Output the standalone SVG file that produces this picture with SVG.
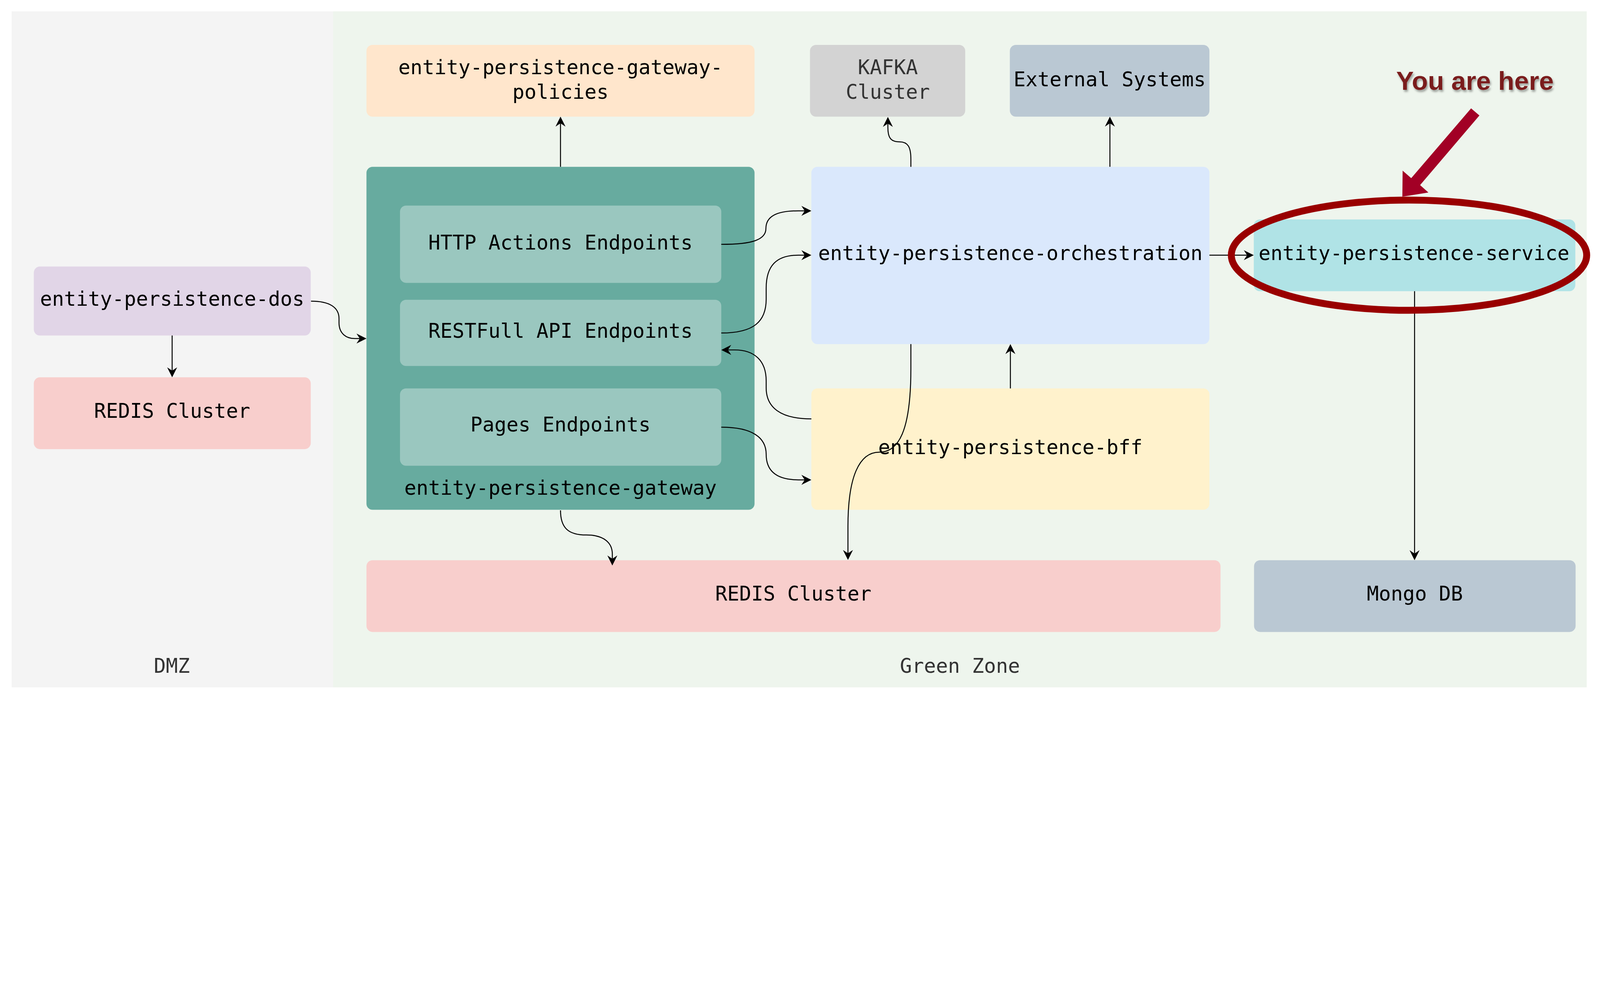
<svg xmlns="http://www.w3.org/2000/svg" width="5772" height="2520" viewBox="0 0 5772 2520" style="max-width:100%;height:auto">
<defs>
<style>
.t{font-family:"DejaVu Sans Mono","Liberation Mono",monospace;font-size:72px;fill:#000;text-anchor:middle}
.g{fill:#333}
.c{fill:none;stroke:#000;stroke-width:3.5;marker-end:url(#ah)}
</style>
<marker id="ah" markerUnits="userSpaceOnUse" viewBox="-14 -20 40 40" markerWidth="40" markerHeight="40" refX="0" refY="0" orient="auto" overflow="visible">
<path d="M24,0 L-12,-18 L0,0 L-12,18 Z" fill="#000"/>
</marker>
<filter id="sh" x="-10%" y="-30%" width="130%" height="170%">
<feDropShadow dx="4" dy="7" stdDeviation="4" flood-color="#000" flood-opacity="0.35"/>
</filter>
</defs>
<rect width="5772" height="2520" fill="#ffffff"/>
<g id="zone-dmz">
<rect x="42" y="41" width="1160" height="2440" fill="#f4f4f4"/>
<text class="t g" x="620" y="2428">DMZ</text>
</g>
<g id="zone-green">
<rect x="1202" y="41" width="4522" height="2440" fill="#eef5ed"/>
<text class="t g" x="3463" y="2428">Green Zone</text>
</g>
<g id="policies">
<rect x="1322" y="162" width="1400" height="259" rx="22" fill="#ffe6cc"/>
<text class="t" x="2022" y="268">entity-persistence-gateway-</text>
<text class="t" x="2022" y="356">policies</text>
</g>
<g id="kafka">
<rect x="2922" y="162" width="560" height="259" rx="22" fill="#d3d3d3"/>
<text class="t g" x="3203" y="268">KAFKA</text>
<text class="t g" x="3203" y="356">Cluster</text>
</g>
<g id="external">
<rect x="3643" y="162" width="720" height="259" rx="22" fill="#bac8d3"/>
<text class="t" x="4003" y="312">External Systems</text>
</g>
<g id="gateway">
<rect x="1322" y="602" width="1400" height="1238" rx="22" fill="#67ab9f"/>
<text class="t" x="2022" y="1786">entity-persistence-gateway</text>
</g>
<g id="http-actions">
<rect x="1443" y="742" width="1159" height="279" rx="22" fill="#9ac7bf"/>
<text class="t" x="2022" y="900">HTTP Actions Endpoints</text>
</g>
<g id="restfull">
<rect x="1443" y="1082" width="1159" height="239" rx="22" fill="#9ac7bf"/>
<text class="t" x="2022" y="1219">RESTFull API Endpoints</text>
</g>
<g id="pages">
<rect x="1443" y="1402" width="1159" height="279" rx="22" fill="#9ac7bf"/>
<text class="t" x="2022" y="1558">Pages Endpoints</text>
</g>
<g id="dos">
<rect x="122" y="962" width="999" height="249" rx="22" fill="#e1d5e7"/>
<text class="t" x="621" y="1104">entity-persistence-dos</text>
</g>
<g id="redis-dmz">
<rect x="122" y="1362" width="999" height="259" rx="22" fill="#f8cecc"/>
<text class="t" x="621" y="1508">REDIS Cluster</text>
</g>
<g id="orchestration">
<rect x="2927" y="602" width="1436" height="640" rx="22" fill="#dae8fc"/>
<text class="t" x="3645" y="939">entity-persistence-orchestration</text>
</g>
<g id="bff">
<rect x="2927" y="1402" width="1436" height="438" rx="22" fill="#fff2cc"/>
<text class="t" x="3645" y="1639">entity-persistence-bff</text>
</g>
<g id="service">
<rect x="4523" y="792" width="1160" height="259" rx="22" fill="#b0e3e6"/>
<text class="t" x="5101" y="939" textLength="1121" lengthAdjust="spacingAndGlyphs">entity-persistence-service</text>
</g>
<g id="redis-green">
<rect x="1322" y="2022" width="3081" height="259" rx="22" fill="#f8cecc"/>
<text class="t" x="2862" y="2167">REDIS Cluster</text>
</g>
<g id="mongo">
<rect x="4524" y="2022" width="1160" height="259" rx="22" fill="#bac8d3"/>
<text class="t" x="5104" y="2167">Mongo DB</text>
</g>
<g id="connectors">
<path class="c" d="M2022,602 L2022,445"/>
<path class="c" d="M2602,882 C2715,882 2763,865 2763,825 C2763,782 2800,761 2880,761 L2903,761"/>
<path class="c" d="M2602,1202 C2720,1202 2764,1160 2764,1080 L2764,1040 C2764,960 2800,921 2880,921 L2903,921"/>
<path class="c" d="M2927,1512 C2815,1512 2764,1470 2764,1400 L2764,1375 C2764,1300 2720,1263 2650,1263 L2626,1263"/>
<path class="c" d="M2602,1542 C2715,1542 2764,1580 2764,1640 C2764,1700 2800,1732 2880,1732 L2903,1732"/>
<path class="c" d="M1122,1087 C1190,1087 1223,1110 1223,1150 L1223,1165 C1223,1205 1250,1222 1280,1222 L1298,1222"/>
<path class="c" d="M621,1211 L621,1338"/>
<path class="c" d="M2022,1842 C2022,1905 2050,1931 2115,1931 C2180,1931 2209,1960 2209,2000 L2209,2017"/>
<path class="c" d="M3286,602 L3286,575 C3286,530 3275,512 3245,512 C3212,512 3203,495 3203,460 L3203,446"/>
<path class="c" d="M4004,602 L4004,445"/>
<path class="c" d="M4363,921 L4499,921"/>
<path class="c" d="M3286,1242 L3286,1330 C3286,1560 3240,1632 3172,1632 C3100,1632 3059,1720 3059,1900 L3059,1997"/>
<path class="c" d="M3645,1402 L3645,1266"/>
<path class="c" d="M5103,1051 L5103,1998"/>
</g>
<g id="you-are-here">
<ellipse cx="5083" cy="921" rx="641" ry="199" fill="none" stroke="#990000" stroke-width="25"/>
<polygon points="5307,391 5337,417 5123,668 5153,695 5059,710 5060,616 5091,643" fill="#a20025"/>
<text x="5321" y="324" filter="url(#sh)" style="font-family:'Liberation Sans',Arial,sans-serif;font-weight:bold;font-size:95px;fill:#7a1e1e;text-anchor:middle">You are here</text>
</g>
</svg>
